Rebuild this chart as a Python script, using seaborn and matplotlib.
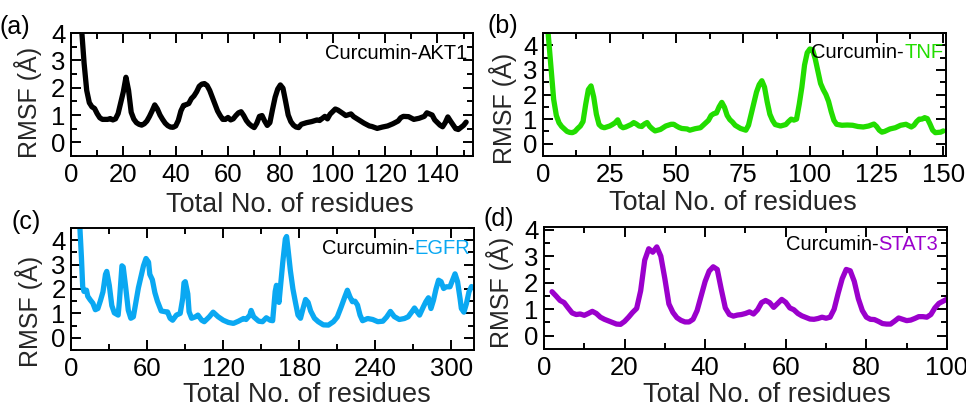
import matplotlib
matplotlib.use("Agg")
import matplotlib.pyplot as plt
from matplotlib.ticker import MultipleLocator
import pandas as pd
import seaborn as sns

# ---- RMSF profiles (residue index, RMSF in Å) ----
akt1_res = [3, 4, 5, 6, 7, 8, 9, 10, 11, 12, 14, 15, 16, 17, 18, 19, 20, 21, 22, 23,
            24, 25, 26, 27, 28, 29, 30, 31, 32, 33, 34, 35, 36, 37, 38, 39, 40, 41, 42, 43,
            44, 45, 46, 47, 48, 49, 50, 51, 52, 53, 54, 55, 56, 57, 58, 59, 60, 61, 62, 63,
            64, 65, 66, 67, 68, 69, 70, 71, 72, 73, 74, 75, 76, 77, 78, 79, 80, 81, 82, 83,
            84, 85, 86, 87, 88, 90, 92, 94, 95, 97, 98, 99, 101, 102, 104, 105, 107, 108, 110, 112,
            114, 115, 117, 119, 121, 123, 125, 126, 127, 129, 131, 133, 135, 136, 138, 139, 141, 142, 143, 144,
            145, 147, 148, 150, 151]
akt1_rmsf = [5.5, 4.2, 2.9, 1.9, 1.45, 1.3, 1.24, 1.05, 0.9, 0.84, 0.84, 0.87, 0.82, 0.86, 1.05, 1.45, 1.85, 2.38, 1.9, 1.1,
             0.85, 0.72, 0.66, 0.63, 0.68, 0.78, 0.95, 1.15, 1.37, 1.22, 1.0, 0.84, 0.7, 0.61, 0.56, 0.55, 0.6, 0.8, 1.15, 1.35,
             1.38, 1.42, 1.6, 1.7, 1.85, 2.05, 2.13, 2.15, 2.08, 1.9, 1.65, 1.4, 1.15, 0.98, 0.84, 0.84, 0.91, 0.82, 0.86, 0.98,
             1.08, 1.12, 0.98, 0.8, 0.68, 0.6, 0.54, 0.7, 0.95, 0.98, 0.78, 0.62, 0.72, 1.2, 1.65, 1.95, 2.1, 1.98, 1.5, 1.0,
             0.76, 0.63, 0.56, 0.54, 0.66, 0.72, 0.76, 0.82, 0.8, 0.95, 0.86, 1.03, 1.22, 1.18, 1.05, 0.98, 1.04, 0.94, 0.82, 0.7,
             0.6, 0.58, 0.51, 0.56, 0.6, 0.68, 0.78, 0.9, 0.95, 0.94, 0.84, 0.88, 0.95, 1.08, 1.0, 0.82, 0.63, 0.57, 0.72, 0.93,
             0.78, 0.5, 0.47, 0.62, 0.74]

tnf_res = [1, 2, 3, 4, 5, 6, 7, 8, 9, 10, 11, 12, 13, 14, 15, 16, 17, 18, 19, 20,
           21, 22, 23, 25, 26, 27, 28, 29, 30, 31, 33, 34, 35, 36, 37, 38, 39, 40, 41, 42,
           44, 46, 48, 49, 50, 51, 52, 54, 55, 57, 59, 60, 62, 63, 64, 65, 66, 67, 68, 69,
           70, 71, 72, 74, 76, 77, 78, 79, 80, 81, 82, 83, 84, 85, 86, 87, 89, 91, 92, 93,
           94, 95, 96, 97, 98, 99, 100, 101, 102, 103, 104, 105, 106, 107, 108, 109, 110, 112, 114, 116,
           118, 120, 122, 124, 125, 126, 127, 128, 130, 132, 134, 136, 138, 139, 140, 141, 142, 143, 144, 145,
           146, 147, 149, 150]
tnf_rmsf = [6.0, 4.4, 3.1, 1.8, 1.15, 0.85, 0.7, 0.6, 0.5, 0.46, 0.45, 0.5, 0.62, 0.72, 0.9, 1.6, 2.2, 2.35, 1.9, 1.2,
            0.78, 0.68, 0.65, 0.72, 0.78, 0.85, 0.97, 0.72, 0.65, 0.68, 0.78, 0.86, 0.8, 0.72, 0.7, 0.8, 0.86, 0.7, 0.6, 0.52,
            0.58, 0.72, 0.79, 0.79, 0.72, 0.66, 0.62, 0.6, 0.55, 0.61, 0.65, 0.75, 0.95, 1.15, 1.22, 1.25, 1.5, 1.68, 1.48, 1.15,
            0.98, 0.88, 0.75, 0.62, 0.55, 0.75, 1.2, 1.65, 2.1, 2.4, 2.56, 2.3, 1.7, 1.2, 0.95, 0.78, 0.72, 0.78, 0.9, 1.0,
            0.96, 1.0, 1.6, 2.3, 3.2, 3.7, 3.85, 3.82, 3.45, 2.95, 2.45, 2.2, 2.0, 1.72, 1.3, 0.95, 0.79, 0.75, 0.76, 0.75,
            0.7, 0.68, 0.72, 0.8, 0.7, 0.55, 0.47, 0.5, 0.6, 0.65, 0.75, 0.79, 0.68, 0.75, 0.9, 1.0, 1.0, 1.06, 1.02, 0.8,
            0.55, 0.45, 0.47, 0.52]

egfr_res = [6, 7, 8, 9, 10, 12, 13, 15, 17, 19, 21, 23, 25, 27, 28, 30, 32, 34, 37, 38,
            40, 41, 43, 45, 47, 49, 51, 53, 55, 57, 59, 61, 62, 64, 66, 68, 71, 74, 76, 78,
            80, 83, 86, 88, 89, 90, 92, 93, 95, 98, 100, 103, 105, 109, 112, 116, 120, 124, 128, 132,
            136, 138, 141, 142, 144, 148, 151, 154, 157, 159, 160, 161, 162, 163, 164, 165, 167, 169, 170, 171,
            173, 175, 177, 179, 181, 183, 185, 187, 189, 192, 195, 199, 203, 207, 210, 213, 216, 218, 220, 222,
            224, 226, 228, 230, 234, 238, 242, 246, 249, 252, 255, 259, 263, 266, 269, 271, 273, 275, 278, 280,
            282, 284, 286, 288, 290, 292, 294, 296, 299, 301, 303, 305, 307, 308, 310, 312, 314, 316]
egfr_rmsf = [5.3, 4.3, 3.3, 2.1, 1.9, 1.95, 1.7, 1.55, 1.42, 1.15, 1.2, 1.52, 1.88, 2.6, 2.72, 2.15, 1.32, 1.02, 0.93, 1.5,
             2.95, 2.9, 2.05, 1.13, 0.8, 0.86, 1.45, 2.05, 2.5, 2.95, 3.25, 3.1, 2.6, 2.38, 1.85, 1.5, 1.1, 1.07, 1.06, 0.8,
             0.72, 0.93, 1.0, 1.62, 2.25, 2.3, 1.8, 1.07, 0.8, 0.86, 0.93, 0.72, 0.66, 0.86, 1.05, 0.86, 0.72, 0.63, 0.59, 0.68,
             0.79, 0.75, 0.93, 1.12, 0.86, 0.68, 0.66, 0.82, 0.72, 0.7, 1.3, 1.9, 2.15, 1.8, 1.45, 2.0, 3.1, 4.05, 4.15, 3.7,
             2.75, 2.0, 1.45, 0.93, 0.8, 1.2, 1.57, 1.45, 1.1, 0.8, 0.66, 0.53, 0.52, 0.66, 0.85, 1.25, 1.68, 1.95, 1.68, 1.48,
             1.5, 1.34, 0.93, 0.7, 0.79, 0.75, 0.66, 0.68, 0.85, 1.08, 0.87, 0.75, 0.79, 0.86, 1.07, 1.22, 1.07, 0.93, 1.27, 1.48,
             1.64, 1.2, 1.54, 2.0, 2.36, 2.3, 2.02, 2.09, 2.09, 2.36, 2.62, 2.3, 1.6, 1.2, 1.05, 1.4, 1.88, 2.1]

stat3_res = list(range(2, 101))
stat3_rmsf = [1.66, 1.5, 1.33, 1.25, 1.05, 0.86, 0.8, 0.82, 0.77, 0.84, 0.92, 0.84, 0.7, 0.62, 0.56, 0.5, 0.44, 0.43, 0.54,
              0.7, 0.88, 1.03, 1.7, 2.85, 3.28, 3.15, 3.35, 3.0, 2.15, 1.2, 0.88, 0.68, 0.58, 0.52, 0.52, 0.62, 0.95, 1.5, 2.05,
              2.44, 2.6, 2.5, 1.75, 1.05, 0.8, 0.74, 0.78, 0.8, 0.84, 0.9, 0.82, 0.98, 1.25, 1.33, 1.25, 1.07, 1.22, 1.37, 1.26,
              1.05, 0.98, 0.84, 0.75, 0.69, 0.63, 0.62, 0.65, 0.7, 0.66, 0.7, 1.0, 1.6, 2.15, 2.5, 2.45, 2.05, 1.4, 0.95, 0.7,
              0.62, 0.61, 0.54, 0.46, 0.44, 0.44, 0.55, 0.67, 0.62, 0.57, 0.59, 0.65, 0.72, 0.72, 0.7, 0.8, 1.05, 1.22, 1.3, 1.38]

panel_letters = ["(a)", "(b)", "(c)", "(d)"]
targets = ["AKT1", "TNF", "EGFR", "STAT3"]
line_colors = ["#000000", "#22DD00", "#0AA8F2", "#9B00CC"]
x_label = "Total No. of residues"
y_label = "RMSF (Å)"

sns.set_style("ticks")
plt.rcParams["font.family"] = ["Liberation Sans", "DejaVu Sans"]

fig = plt.figure(figsize=(9.66, 4.08), dpi=100)

panels = [
    dict(res=akt1_res, val=akt1_rmsf, rect=[0.0735, 0.6176, 0.4161, 0.3015],
         xlim=(0, 153.6), ylim=(-0.5, 4.0), xmaj=20, xmin=10,
         xlab=(0.545, -0.40), ylab=(-0.108, 0.435), tag=(0.988, 0.83),
         letter=(0.0155, 0.934)),
    dict(res=tnf_res, val=tnf_rmsf, rect=[0.5621, 0.6176, 0.4172, 0.3015],
         xlim=(0, 151), ylim=(-0.5, 4.5), xmaj=25, xmin=12.5,
         xlab=(0.471, -0.38), ylab=(-0.100, 0.39), tag=(0.993, 0.84),
         letter=(0.5207, 0.936)),
    dict(res=egfr_res, val=egfr_rmsf, rect=[0.0738, 0.1422, 0.4169, 0.2990],
         xlim=(0, 318), ylim=(-0.5, 4.5), xmaj=60, xmin=30,
         xlab=(0.585, -0.37), ylab=(-0.104, 0.32), tag=(0.99, 0.83),
         letter=(0.0274, 0.457)),
    dict(res=stat3_res, val=stat3_rmsf, rect=[0.5631, 0.1446, 0.4172, 0.2990],
         xlim=(0, 100), ylim=(-0.5, 4.1), xmaj=20, xmin=10,
         xlab=(0.553, -0.377), ylab=(-0.108, 0.46), tag=(0.978, 0.86),
         letter=(0.5166, 0.463)),
]

for p, letter, name, color in zip(panels, panel_letters, targets, line_colors):
    ax = fig.add_axes(p["rect"])
    df = pd.DataFrame({"residue": p["res"], "rmsf": p["val"]})
    sns.lineplot(data=df, x="residue", y="rmsf", ax=ax, color=color,
                 linewidth=3.8, estimator=None, sort=True)
    ax.set_xlim(*p["xlim"])
    ax.set_ylim(*p["ylim"])

    ax.xaxis.set_major_locator(MultipleLocator(p["xmaj"]))
    ax.xaxis.set_minor_locator(MultipleLocator(p["xmin"]))
    ax.yaxis.set_major_locator(MultipleLocator(1))
    ax.yaxis.set_minor_locator(MultipleLocator(0.5))
    ax.tick_params(which="both", direction="in", top=True, right=True,
                   width=1.4, colors="black", labelsize=18.5)
    ax.tick_params(which="major", length=7)
    ax.tick_params(which="minor", length=4.3)
    ax.tick_params(axis="x", pad=5)
    ax.tick_params(axis="y", pad=4)
    for s in ax.spines.values():
        s.set_linewidth(1.4)
        s.set_color("black")

    ax.set_xlabel(x_label, fontsize=19.5, va="center")
    ax.set_ylabel(y_label, fontsize=18, va="center")
    ax.xaxis.set_label_coords(*p["xlab"])
    ax.yaxis.set_label_coords(*p["ylab"])

    # "Curcumin-" in black followed by the target name in the line colour
    name_txt = ax.text(p["tag"][0], p["tag"][1], name, transform=ax.transAxes,
                       ha="right", va="center", fontsize=14.5, color=color)
    ax.annotate("Curcumin-", xy=(0, 0), xycoords=name_txt, ha="right", va="bottom",
                fontsize=14.5, color="black")

    fig.text(p["letter"][0], p["letter"][1], letter, ha="center", va="center",
             fontsize=18, color="black")

fig.savefig("out.png", dpi=100)
